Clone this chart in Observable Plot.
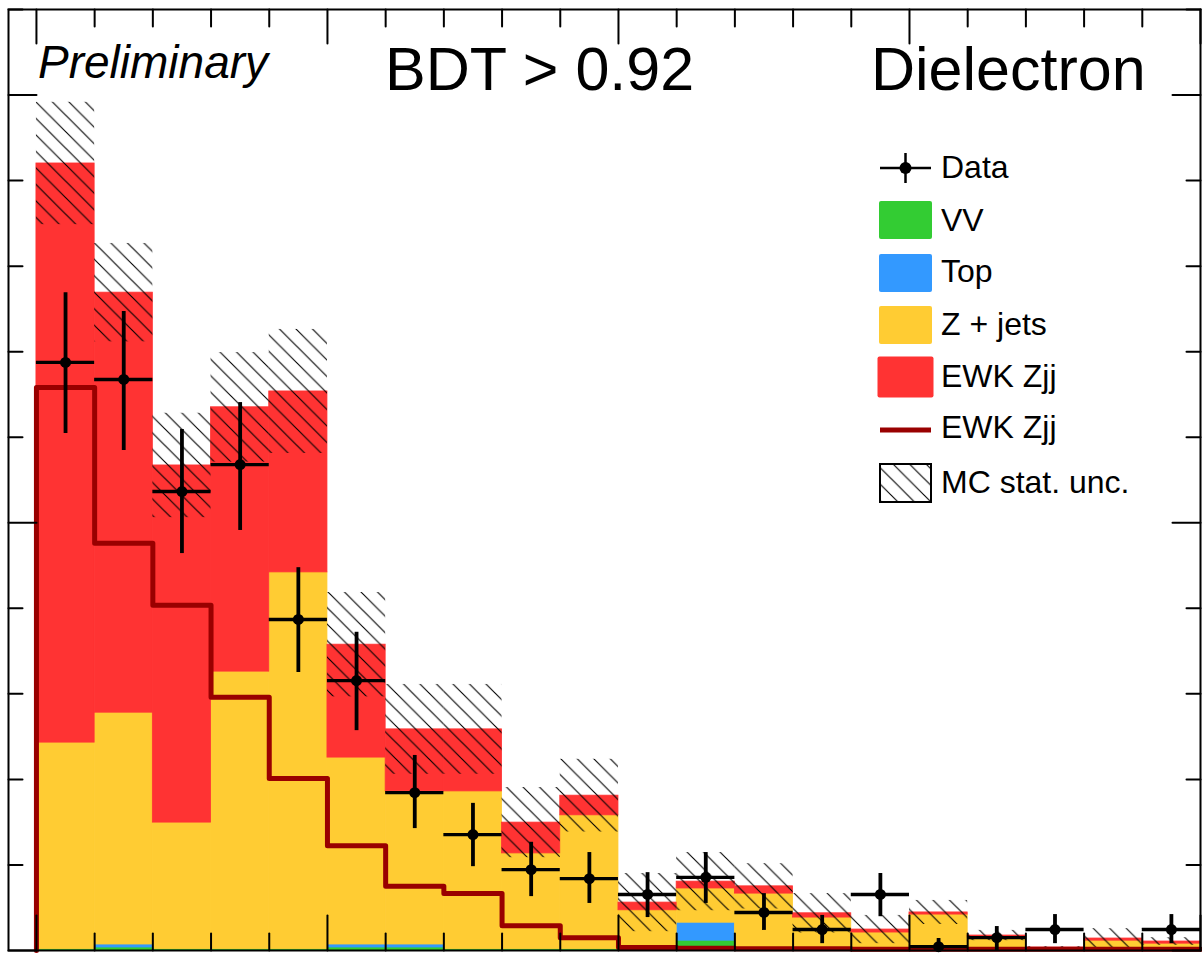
<!DOCTYPE html>
<html><head><meta charset="utf-8">
<script src="https://cdn.jsdelivr.net/npm/d3@7"></script>
<script src="https://cdn.jsdelivr.net/npm/@observablehq/plot@0.6"></script>
<style>body{margin:0;background:#fff;overflow:hidden} svg{display:block} #chart{width:1202px;height:958px}</style>
</head><body><div id="chart"></div>
<script>
// ---- data (bin index 0..19, events per bin) ----
const bins   = d3.range(20);
const vv     = [0.03,0.07,0.03,0.03,0.03,0.07,0.07,0.03,0.03,0.03,0.03,0.23,0.03,0.03,0.03,0.03,0.03,0.02,0.02,0.02];
const topBkg = [0,0.07,0,0,0,0.07,0.07,0,0,0,0,0.42,0,0,0,0,0,0,0,0];
const zjets  = [4.83,5.42,2.96,6.49,8.81,4.37,3.58,3.69,2.24,3.13,0.91,0.80,1.30,0.74,0.39,0.81,0.27,0.03,0.21,0.14];
const ewk    = [13.54,9.82,8.35,6.18,4.23,2.64,1.45,1.45,0.72,0.46,0.18,0.16,0.17,0.10,0.07,0.05,0.05,0.02,0.05,0.05];
const mcUnc  = [1.43,1.15,1.22,1.28,1.45,1.22,1.05,1.05,0.82,0.85,0.68,0.68,0.53,0.46,0.33,0.28,0.12,0.02,0.23,0.09];
const ewkLine= [13.16,9.52,8.07,5.92,4.02,2.45,1.50,1.33,0.58,0.30,0.07,0.05,0.04,0.04,0.03,0.03,0.03,0.03,0.03,0.03];
const dataY  = [13.75,13.35,10.73,11.36,7.74,6.31,3.69,2.71,1.89,1.68,1.31,1.71,0.89,0.49,1.31,0.09,0.30,0.49,null,0.49];
const dataLo = [12.09,11.69,9.28,9.82,6.50,5.14,2.85,1.96,1.26,1.10,0.77,1.10,0.47,0.16,0.79,0.00,0.00,0.16,null,0.16];
const dataHi = [15.38,14.94,12.18,12.81,8.95,7.44,4.56,3.44,2.53,2.29,1.82,2.29,1.33,0.82,1.80,0.28,0.56,0.84,null,0.84];
const xEdges = d3.range(0, 21);
const xMajor = [0, 5, 10, 15, 20];
const yTicks = d3.range(0, 23, 2);
const yMajor = [0, 10, 20];

const colors = {vv: "#33cc33", top: "#3399ff", zjets: "#ffcc33", ewk: "#ff3333", line: "#990000"};

// stacked layers
const layers = [["vv", vv], ["top", topBkg], ["zjets", zjets], ["ewk", ewk]];
const rows = [];
bins.forEach(i => {
  let base = 0;
  for (const [name, arr] of layers) {
    rows.push({name, x1: i, x2: i + 1, y1: base, y2: base + arr[i]});
    base += arr[i];
  }
});
const totals = bins.map(i => vv[i] + topBkg[i] + zjets[i] + ewk[i]);
const hatchRows = bins.map(i => ({x1: i, x2: i + 1, y1: Math.max(0, totals[i] - mcUnc[i]), y2: totals[i] + mcUnc[i]}));
const lineRows = [{x: 0, y: 0}, ...bins.map(i => ({x: i, y: ewkLine[i]})), {x: 20, y: ewkLine[19]}];
const dataRows = bins.filter(i => dataY[i] != null).map(i => ({i, y: dataY[i], lo: dataLo[i], hi: dataHi[i]}));

const tickShape = {draw(ctx, l) { ctx.moveTo(0, 0); ctx.lineTo(0, -l); }};
const tickOpts = {stroke: "black", strokeWidth: 2, anchor: "start", shape: tickShape};

const plot = Plot.plot({
  width: 1202, height: 958,
  marginLeft: 8, marginRight: 2, marginTop: 9, marginBottom: 8,
  x: {domain: [-0.48, 20], axis: null},
  y: {domain: [0, 22], axis: null},
  marks: [
    ...layers.map(([name]) => Plot.rect(rows.filter(r => r.name === name), {x1: "x1", x2: "x2", y1: "y1", y2: "y2", fill: colors[name], stroke: colors[name], strokeWidth: 0.8})),
    Plot.rect(hatchRows, {x1: "x1", x2: "x2", y1: "y1", y2: "y2", fill: "url(#hatch)"}),
    Plot.line(lineRows, {x: "x", y: "y", curve: "step-after", stroke: colors.line, strokeWidth: 5}),
    Plot.ruleX(dataRows, {x: d => d.i + 0.5, y1: "lo", y2: "hi", stroke: "black", strokeWidth: 3.8}),
    Plot.ruleY(dataRows, {y: "y", x1: d => d.i, x2: d => d.i + 1, stroke: "black", strokeWidth: 3.4}),
    Plot.dot(dataRows, {x: d => d.i + 0.5, y: "y", r: 5.5, fill: "black"}),
    // ticks (inward)
    Plot.vectorX(xEdges.filter(d => !xMajor.includes(d)), {x: d => d, frameAnchor: "bottom", length: 17, rotate: 0, ...tickOpts}),
    Plot.vectorX(xMajor, {x: d => d, frameAnchor: "bottom", length: 35, rotate: 0, ...tickOpts}),
    Plot.vectorX(xEdges.filter(d => !xMajor.includes(d)), {x: d => d, frameAnchor: "top", length: 17, rotate: 180, ...tickOpts}),
    Plot.vectorX(xMajor, {x: d => d, frameAnchor: "top", length: 34, rotate: 180, ...tickOpts}),
    Plot.vectorY(yTicks.filter(d => !yMajor.includes(d)), {y: d => d, frameAnchor: "left", length: 14, rotate: 90, ...tickOpts}),
    Plot.vectorY(yMajor, {y: d => d, frameAnchor: "left", length: 28, rotate: 90, ...tickOpts}),
    Plot.vectorY(yTicks.filter(d => !yMajor.includes(d)), {y: d => d, frameAnchor: "right", length: 14, rotate: -90, ...tickOpts}),
    Plot.vectorY(yMajor, {y: d => d, frameAnchor: "right", length: 28, rotate: -90, ...tickOpts}),
    Plot.frame({stroke: "black", strokeWidth: 2})
  ]
});

document.getElementById("chart").appendChild(plot);
const svg = d3.select(plot);
const defs = svg.insert("defs", ":first-child");
defs.append("pattern").attr("id", "hatch").attr("patternUnits", "userSpaceOnUse")
  .attr("width", 16.5).attr("height", 16.5)
  .append("path").attr("d", "M-2,-2L18.5,18.5M-2,14.5L2,18.5M14.5,-2L18.5,2")
  .attr("stroke", "black").attr("stroke-width", 1.1).attr("fill", "none");

// header texts
const font = "'Liberation Sans', Arial, Helvetica, sans-serif";
const hdr = svg.append("g").attr("font-family", font).attr("text-anchor", "start").attr("fill", "black");
hdr.append("text").attr("x", 38).attr("y", 78).attr("font-size", 46).attr("font-style", "italic").text("Preliminary");
hdr.append("text").attr("x", 385).attr("y", 90).attr("font-size", 61).text("BDT > 0.92");
hdr.append("text").attr("x", 871).attr("y", 90).attr("font-size", 61).text("Dielectron");

// legend
const lg = svg.append("g").attr("font-family", font).attr("font-size", 32).attr("text-anchor", "start").attr("fill", "black");
const entries = [
  {label: "Data", type: "data", yc: 168, base: 178},
  {label: "VV", type: "box", color: colors.vv, yc: 220, base: 231},
  {label: "Top", type: "box", color: colors.top, yc: 273, base: 282},
  {label: "Z + jets", type: "box", color: colors.zjets, yc: 325, base: 335},
  {label: "EWK Zjj", type: "box", color: colors.ewk, yc: 377, base: 387, big: true},
  {label: "EWK Zjj", type: "line", color: colors.line, yc: 430, base: 438},
  {label: "MC stat. unc.", type: "hatch", yc: 483, base: 493}
];
for (const e of entries) {
  if (e.type === "data") {
    lg.append("line").attr("x1", 880).attr("x2", 931).attr("y1", e.yc).attr("y2", e.yc).attr("stroke", "black").attr("stroke-width", 2.5);
    lg.append("line").attr("x1", 905.5).attr("x2", 905.5).attr("y1", e.yc - 15).attr("y2", e.yc + 15).attr("stroke", "black").attr("stroke-width", 2.5);
    lg.append("circle").attr("cx", 905.5).attr("cy", e.yc).attr("r", 6).attr("fill", "black");
  } else if (e.type === "box") {
    const w = e.big ? 56 : 53, h = e.big ? 41 : 38;
    lg.append("rect").attr("x", 905.5 - w / 2).attr("y", e.yc - h / 2).attr("width", w).attr("height", h)
      .attr("rx", 2).attr("fill", e.color);
  } else if (e.type === "line") {
    lg.append("line").attr("x1", 880).attr("x2", 931).attr("y1", e.yc).attr("y2", e.yc).attr("stroke", e.color).attr("stroke-width", 5);
  } else {
    lg.append("rect").attr("x", 880).attr("y", e.yc - 19).attr("width", 51).attr("height", 38)
      .attr("fill", "url(#hatch)").attr("stroke", "black").attr("stroke-width", 2);
  }
  lg.append("text").attr("x", 941).attr("y", e.base).text(e.label);
}
</script>
</body></html>
